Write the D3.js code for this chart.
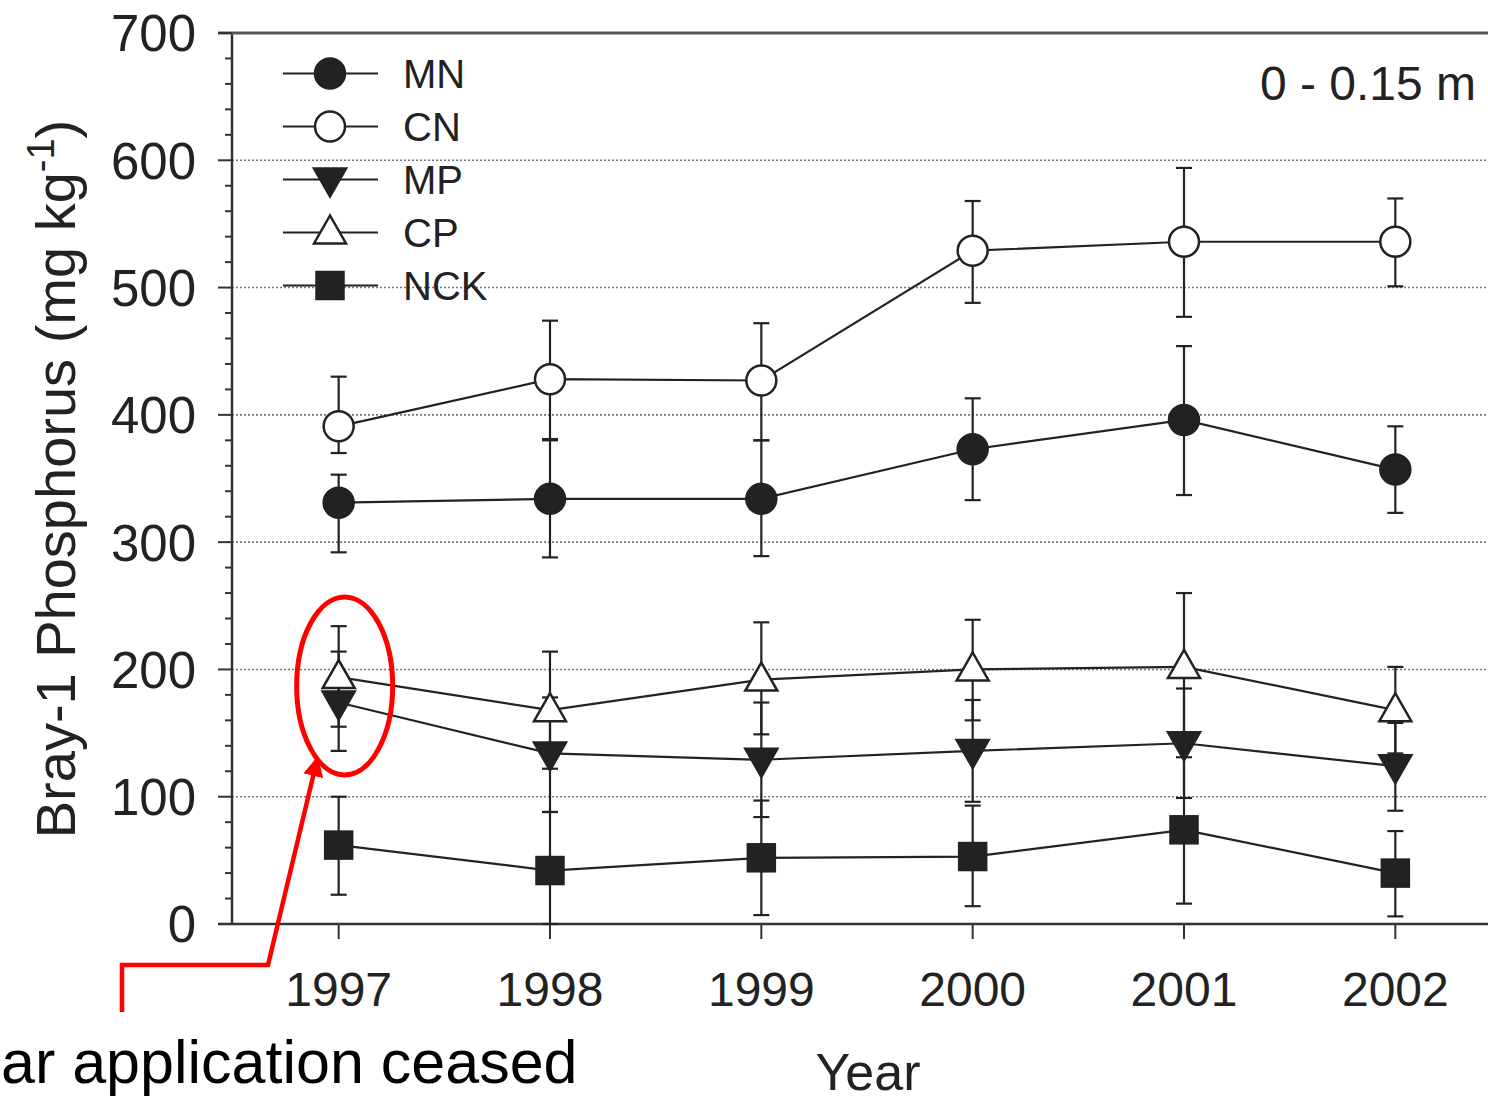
<!DOCTYPE html>
<html lang="en">
<head>
  <meta charset="UTF-8">
  <title>Bray-1 Phosphorus</title>
  <script src="https://cdn.jsdelivr.net/npm/d3@7/dist/d3.min.js"></script>
<style>
body{
  margin: 0;
  background: #fff;
}
svg text{
  font-family: "Liberation Sans", Arial, sans-serif;
  fill: #222;
}
.grid{
  stroke: #777;
  stroke-width: 1.6;
  stroke-dasharray: 2,2;
}
.eje{
  stroke: #333;
  stroke-width: 2.5;
}
</style>
</head>
<body>
  <div id="grafico"></div>

  <script>
    // datos
    var years = [1997, 1998, 1999, 2000, 2001, 2002];
    var yTicks = [0, 100, 200, 300, 400, 500, 600, 700];
    var seriesNames = ['MN', 'CN', 'MP', 'CP', 'NCK'];

    var mnMean = [331, 334, 334, 373, 396, 357];
    var mnHi   = [353, 380, 380, 413, 454, 391];
    var mnLo   = [292, 288, 289, 333, 337, 323];

    var cnMean = [391, 428, 427, 529, 536, 536];
    var cnHi   = [430, 474, 472, 568, 594, 570];
    var cnLo   = [370, 381, 380, 488, 477, 501];

    var mpMean = [174, 134, 129, 136, 142, 124];
    var mpHi   = [214, 178, 174, 176, 185, 158];
    var mpLo   = [136, 88, 84, 96, 99, 89];

    var cpMean = [194, 168, 192, 200, 202, 168];
    var cpHi   = [234, 214, 237, 239, 260, 202];
    var cpLo   = [155, 122, 149, 160, 144, 134];

    var nckMean = [62, 42, 52, 53, 74, 40];
    var nckHi   = [100, 88, 97, 93, 131, 73];
    var nckLo   = [23, 0, 7, 14, 16, 6];

    var w = 1488;
    var h = 1101;
    var tinta = '#222';

    var series = [
      {name: 'MN', mean: mnMean, hi: mnHi, lo: mnLo, shape: 'circle', fill: tinta},
      {name: 'CN', mean: cnMean, hi: cnHi, lo: cnLo, shape: 'circle', fill: '#fff'},
      {name: 'MP', mean: mpMean, hi: mpHi, lo: mpLo, shape: 'tridown', fill: tinta},
      {name: 'CP', mean: cpMean, hi: cpHi, lo: cpLo, shape: 'triup', fill: '#fff'},
      {name: 'NCK', mean: nckMean, hi: nckHi, lo: nckLo, shape: 'square', fill: tinta}
    ];

    var svg = d3.select("#grafico")
      .append("svg")
      .attr("width", w)
      .attr("height", h);

    //Escalas
    var x = d3.scaleLinear().domain([1996.5, 2002.5]).range([233, 1501]);
    var y = d3.scaleLinear().domain([0, 700]).range([924, 33]);
    var x0 = 232;

    // lineas de rejilla punteadas
    svg.selectAll(".grid")
      .data(yTicks.filter(function(d){ return d > 0 && d < 700; }))
      .enter().append("line")
      .attr("class", "grid")
      .attr("x1", x0).attr("x2", w)
      .attr("y1", function(d){ return y(d); })
      .attr("y2", function(d){ return y(d); });

    // ejes
    svg.append("line").attr("class", "eje")
      .attr("x1", x0).attr("x2", x0).attr("y1", y(700)).attr("y2", y(0));
    svg.append("line").attr("class", "eje")
      .attr("x1", x0 - 14).attr("x2", w).attr("y1", y(0)).attr("y2", y(0));
    svg.append("line").attr("class", "eje").style("stroke", "#555").style("stroke-width", 3)
      .attr("x1", x0 - 14).attr("x2", w).attr("y1", y(700)).attr("y2", y(700));

    // ticks menores y mayores del eje y
    svg.selectAll(".minor")
      .data(d3.range(0, 701, 20))
      .enter().append("line")
      .attr("stroke", "#333").attr("stroke-width", 2)
      .attr("x1", function(d){ return d % 100 === 0 ? x0 - 14 : x0 - 7; })
      .attr("x2", x0)
      .attr("y1", function(d){ return y(d); })
      .attr("y2", function(d){ return y(d); });

    svg.selectAll(".ylab")
      .data(yTicks)
      .enter().append("text")
      .attr("x", 196)
      .attr("y", function(d){ return y(d); })
      .attr("dy", "0.36em")
      .attr("text-anchor", "end")
      .style("font-size", "51px")
      .text(function(d){ return d; });

    // ticks del eje x
    svg.selectAll(".xtick")
      .data(years)
      .enter().append("line")
      .attr("stroke", "#333").attr("stroke-width", 2)
      .attr("x1", function(d){ return x(d); })
      .attr("x2", function(d){ return x(d); })
      .attr("y1", y(0)).attr("y2", y(0) + 15);

    svg.selectAll(".xlab")
      .data(years)
      .enter().append("text")
      .attr("x", function(d){ return x(d); })
      .attr("y", 1006)
      .attr("text-anchor", "middle")
      .style("font-size", "48px")
      .text(function(d){ return d; });

    svg.append("text")
      .attr("x", 868).attr("y", 1090)
      .attr("text-anchor", "middle")
      .style("font-size", "52px")
      .text("Year");

    var ylab = svg.append("text")
      .attr("transform", "translate(75,479) rotate(-90)")
      .attr("text-anchor", "middle")
      .style("font-size", "56px");
    ylab.append("tspan").text("Bray-1 Phosphorus (mg kg");
    ylab.append("tspan").attr("baseline-shift", "super").style("font-size", "38px").text("-1");
    ylab.append("tspan").text(")");

    svg.append("text")
      .attr("x", 1476).attr("y", 100)
      .attr("text-anchor", "end")
      .style("font-size", "48px")
      .text("0 - 0.15 m");

    // simbolos
    function marker(g, shape, fill, cx, cy) {
      var s = 15;
      if (shape === 'circle') {
        g.append("circle").attr("cx", cx).attr("cy", cy).attr("r", s)
          .attr("fill", fill).attr("stroke", tinta).attr("stroke-width", 2.5);
      } else if (shape === 'square') {
        g.append("rect").attr("x", cx - 14).attr("y", cy - 14).attr("width", 28).attr("height", 28)
          .attr("fill", fill).attr("stroke", tinta).attr("stroke-width", 1.5);
      } else {
        var dir = shape === 'triup' ? 1 : -1;
        var pts = [[cx, cy - dir * 17], [cx - 16, cy + dir * 11], [cx + 16, cy + dir * 11]];
        g.append("polygon").attr("points", pts.map(function(p){ return p.join(","); }).join(" "))
          .attr("fill", fill).attr("stroke", tinta).attr("stroke-width", 2.5)
          .attr("stroke-linejoin", "miter");
      }
    }

    var line = d3.line()
      .x(function(d, i){ return x(years[i]); })
      .y(function(d){ return y(d); });

    series.forEach(function(s){
      svg.append("path")
        .datum(s.mean)
        .attr("d", line)
        .attr("fill", "none")
        .attr("stroke", tinta)
        .attr("stroke-width", 2.2);
    });

    // barras de error
    series.forEach(function(s){
      var g = svg.append("g").attr("stroke", tinta).attr("stroke-width", 2.2);
      years.forEach(function(yr, i){
        var cx = x(yr);
        g.append("line").attr("x1", cx).attr("x2", cx).attr("y1", y(s.hi[i])).attr("y2", y(s.lo[i]));
        g.append("line").attr("x1", cx - 8).attr("x2", cx + 8).attr("y1", y(s.hi[i])).attr("y2", y(s.hi[i]));
        g.append("line").attr("x1", cx - 8).attr("x2", cx + 8).attr("y1", y(s.lo[i])).attr("y2", y(s.lo[i]));
      });
    });

    series.forEach(function(s){
      var g = svg.append("g");
      years.forEach(function(yr, i){
        marker(g, s.shape, s.fill, x(yr), y(s.mean[i]));
      });
    });

    // leyenda
    var legY = d3.scaleBand().domain(seriesNames).range([47, 312]);
    series.forEach(function(s){
      var ly = legY(s.name) + legY.bandwidth() / 2;
      var g = svg.append("g");
      g.append("line").attr("x1", 283).attr("x2", 378).attr("y1", ly).attr("y2", ly)
        .attr("stroke", tinta).attr("stroke-width", 2.2);
      marker(g, s.shape, s.fill, 330, ly);
      g.append("text").attr("x", 403).attr("y", ly).attr("dy", "0.36em")
        .style("font-size", "40px").text(s.name);
    });

    // anotacion roja
    var rojo = '#ff0000';
    svg.append("defs").append("marker")
      .attr("id", "flecha")
      .attr("viewBox", "0 0 10 10")
      .attr("refX", 8).attr("refY", 5)
      .attr("markerWidth", 4.5).attr("markerHeight", 4.5)
      .attr("orient", "auto")
      .append("path").attr("d", "M0,0 L10,5 L0,10 z").attr("fill", rojo);

    svg.append("ellipse")
      .attr("cx", x(1997) + 6).attr("cy", y(187))
      .attr("rx", 48).attr("ry", 89)
      .attr("fill", "none").attr("stroke", rojo).attr("stroke-width", 5);

    svg.append("polyline")
      .attr("points", [[122, 1012], [122, 965], [268, 965], [317, 760]].map(function(p){ return p.join(","); }).join(" "))
      .attr("fill", "none").attr("stroke", rojo).attr("stroke-width", 4.5)
      .attr("marker-end", "url(#flecha)");

    svg.append("text")
      .attr("x", 1).attr("y", 1083)
      .style("font-size", "61px")
      .style("fill", "#000")
      .text("ar application ceased");
  </script>
</body>
</html>
